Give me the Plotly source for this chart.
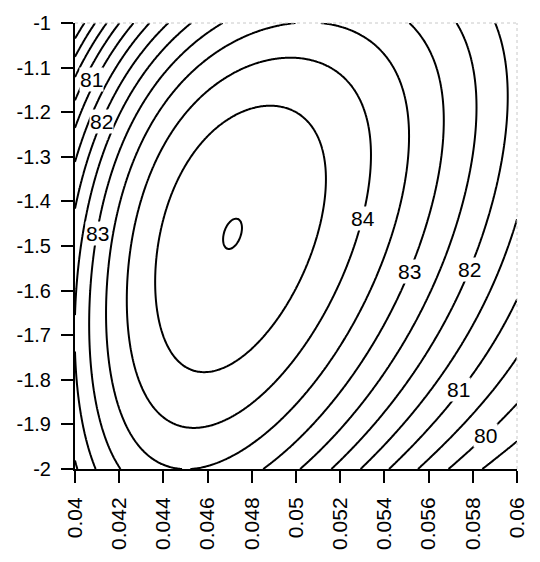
import numpy as np
import plotly.graph_objects as go

# ---- contour-line readings (x, y per level) ----
lv_85_0_x = [0.04686, 0.04708, 0.04697, 0.04697]
lv_85_0_y = [-1.5011, -1.5011, -1.4857, -1.5188]
peak_x, peak_y, peak_z = 0.04697, -1.5030, 85.003

lv_84_5_x = [0.04376, 0.04367, 0.04385, 0.04465, 0.04597, 0.04774, 0.04907, 0.05071,
             0.05106, 0.05128, 0.05053, 0.04894, 0.04628, 0.04544, 0.04407]
lv_84_5_y = [-1.5011, -1.6556, -1.7064, -1.7594, -1.7859, -1.7373, -1.6711, -1.5011,
             -1.4349, -1.3797, -1.2428, -1.2075, -1.2693, -1.3179, -1.4415]

lv_84_0_x = [0.04553, 0.04805, 0.04996, 0.05217, 0.05336, 0.05319, 0.05283, 0.05173,
             0.05049, 0.04907, 0.04553, 0.04319, 0.04235, 0.04257, 0.04319, 0.04451]
lv_84_0_y = [-1.1810, -1.0927, -1.0817, -1.1369, -1.3024, -1.4062, -1.4834, -1.6181,
             -1.6998, -1.7947, -1.9051, -1.8322, -1.6556, -1.4790, -1.3686, -1.2583]

lv_83_5_x = [0.04872, 0.04553, 0.04332, 0.04212, 0.04168, 0.04142, 0.04146, 0.04208,
             0.04345, 0.04465, 0.04509, 0.04774, 0.04907, 0.05217, 0.05350, 0.05425,
             0.05460, 0.05513, 0.05394, 0.05159]
lv_83_5_y = [-1.0, -1.0993, -1.2583, -1.3841, -1.4790, -1.6556, -1.8322, -1.8764,
             -1.9801, -2.0, -2.0, -1.9426, -1.8918, -1.6998, -1.5828, -1.5011,
             -1.4349, -1.2362, -1.0971, -1.0]

lv_83_0_x = [0.04611, 0.04235, 0.04124, 0.04088, 0.04075, 0.04080, 0.04124, 0.04190,
             0.04805, 0.04907, 0.05363, 0.05549, 0.05571, 0.05602, 0.05673, 0.05496]
lv_83_0_y = [-1.0, -1.2583, -1.4415, -1.5121, -1.6556, -1.8035, -1.8918, -2.0,
             -2.0, -1.9801, -1.6998, -1.5232, -1.5011, -1.4349, -1.2362, -1.0]

lv_82_5_x = [0.04473, 0.04164, 0.04058, 0.04044, 0.04018, 0.04022, 0.04088, 0.04996,
             0.05496, 0.05730, 0.05823, 0.05717]
lv_82_5_y = [-1.0, -1.2583, -1.4415, -1.5121, -1.6556, -1.8543, -2.0, -2.0,
             -1.6998, -1.5011, -1.2362, -1.0]

lv_82_0_x = [0.04376, 0.04088, 0.04009, 0.05142, 0.05628, 0.05783, 0.05836, 0.05960, 0.05894]
lv_82_0_y = [-1.0, -1.2583, -1.4062, -2.0, -1.6998, -1.5519, -1.5011, -1.2362, -1.0]

lv_81_5_x = [0.04323, 0.04022, 0.04000, 0.05292, 0.05761, 0.05978, 0.06000]
lv_81_5_y = [-1.0, -1.2583, -1.3024, -2.0, -1.6998, -1.5011, -1.4570]

lv_81_0_x = [0.04274, 0.04000, 0.05425, 0.05735, 0.05894, 0.06000]
lv_81_0_y = [-1.0, -1.1965, -2.0, -1.8212, -1.6998, -1.6049]

lv_80_5_x = [0.04212, 0.04000, 0.05571, 0.06000]
lv_80_5_y = [-1.0, -1.1369, -2.0, -1.7285]

lv_80_0_x = [0.04164, 0.04000, 0.05717, 0.05872, 0.06000]
lv_80_0_y = [-1.0, -1.0883, -2.0, -1.9250, -1.8366]

lv_79_5_x = [0.04111, 0.05872, 0.06000]
lv_79_5_y = [-1.0, -2.0, -1.9360]

lv_79_0_x = [0.04066]
lv_79_0_y = [-1.0]
lv_78_5_x = [0.04022]
lv_78_5_y = [-1.0]

x_ticks = [0.04, 0.042, 0.044, 0.046, 0.048, 0.05, 0.052, 0.054, 0.056, 0.058, 0.06]
x_ticktext = ["0.04", "0.042", "0.044", "0.046", "0.048", "0.05", "0.052", "0.054",
              "0.056", "0.058", "0.06"]
y_ticks = [-1, -1.1, -1.2, -1.3, -1.4, -1.5, -1.6, -1.7, -1.8, -1.9, -2]
y_ticktext = ["-1", "-1.1", "-1.2", "-1.3", "-1.4", "-1.5", "-1.6", "-1.7", "-1.8", "-1.9", "-2"]

label_text = ["81", "82", "83", "84", "83", "82", "81", "80"]
label_x = [0.04075, 0.04119, 0.04102, 0.05305, 0.05513, 0.05783, 0.05735, 0.05858]
label_y = [-1.1258, -1.2208, -1.4724, -1.4393, -1.5563, -1.5519, -1.8212, -1.9250]

# ---- assemble readings and fit a smooth surface through them ----
groups = [
    (85.0, lv_85_0_x, lv_85_0_y), (84.5, lv_84_5_x, lv_84_5_y), (84.0, lv_84_0_x, lv_84_0_y),
    (83.5, lv_83_5_x, lv_83_5_y), (83.0, lv_83_0_x, lv_83_0_y), (82.5, lv_82_5_x, lv_82_5_y),
    (82.0, lv_82_0_x, lv_82_0_y), (81.5, lv_81_5_x, lv_81_5_y), (81.0, lv_81_0_x, lv_81_0_y),
    (80.5, lv_80_5_x, lv_80_5_y), (80.0, lv_80_0_x, lv_80_0_y), (79.5, lv_79_5_x, lv_79_5_y),
    (79.0, lv_79_0_x, lv_79_0_y), (78.5, lv_78_5_x, lv_78_5_y),
]
px, py, pz, pw = [], [], [], []
for lev, xs, ys in groups:
    for a, b in zip(xs, ys):
        px.append(a); py.append(b); pz.append(lev); pw.append(30.0 if lev == 85.0 else 1.0)
px.append(peak_x); py.append(peak_y); pz.append(peak_z); pw.append(40.0)
px = np.array(px); py = np.array(py); pz = np.array(pz); pw = np.array(pw)

DEG = 4
def design(x, y):
    u = (x - 0.05) / 0.01
    v = (y + 1.5) / 0.5
    cols = []
    for i in range(DEG + 1):
        for j in range(DEG + 1 - i):
            cols.append(u ** i * v ** j)
    return np.stack(cols, axis=-1)

A = design(px, py) * pw[:, None]
coef, *_ = np.linalg.lstsq(A, pz * pw, rcond=None)

gx = np.linspace(0.04, 0.06, 321)
gy = np.linspace(-2.0, -1.0, 321)
GX, GY = np.meshgrid(gx, gy)
Z = design(GX, GY) @ coef

fig = go.Figure()
fig.add_trace(go.Contour(
    x=gx, y=gy, z=Z,
    contours=dict(start=78.5, end=85.0, size=0.5, coloring="lines", showlabels=False),
    colorscale=[[0, "black"], [1, "black"]],
    showscale=False,
    line=dict(width=2, smoothing=1.0),
    hoverinfo="skip",
))

font_family = "Liberation Sans, Arial, sans-serif"
for t, lx, ly in zip(label_text, label_x, label_y):
    fig.add_annotation(x=lx, y=ly, text=t, showarrow=False,
                       font=dict(family=font_family, size=21, color="black"),
                       bgcolor="white", borderpad=0)

# faint dotted top/right frame edges (scan look)
fig.add_shape(type="line", xref="paper", yref="paper", x0=0, x1=1, y0=1, y1=1,
              line=dict(color="#c8c8c8", width=1, dash="dot"))
fig.add_shape(type="line", xref="paper", yref="paper", x0=1, x1=1, y0=0, y1=1,
              line=dict(color="#c8c8c8", width=1, dash="dot"))

fig.update_layout(
    width=540, height=562,
    margin=dict(l=75, r=13, t=23, b=85),
    paper_bgcolor="white", plot_bgcolor="white",
    font=dict(family=font_family, color="black"),
    showlegend=False,
    xaxis=dict(range=[0.04, 0.06], tickvals=x_ticks, ticktext=x_ticktext, tickangle=-90,
               showline=True, linecolor="black", linewidth=2, ticks="outside",
               ticklen=12, tickwidth=2, tickcolor="black", showgrid=False, zeroline=False,
               tickfont=dict(size=21), ticklabelstandoff=6),
    yaxis=dict(range=[-2, -1], tickvals=y_ticks, ticktext=y_ticktext,
               showline=True, linecolor="black", linewidth=2, ticks="outside",
               ticklen=12, tickwidth=2, tickcolor="black", showgrid=False, zeroline=False,
               tickfont=dict(size=20), ticklabelstandoff=6),
)

fig.write_html("out.html")
